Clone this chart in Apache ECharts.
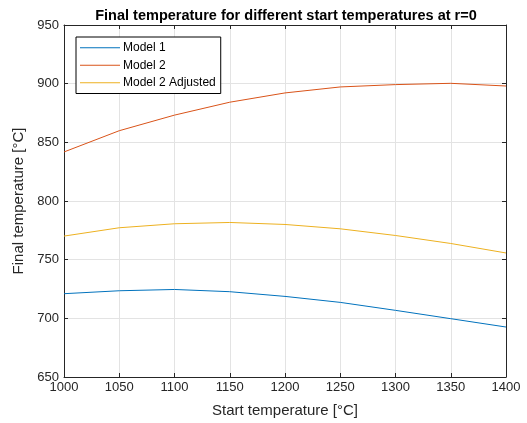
<!DOCTYPE html>
<html>
<head>
<meta charset="utf-8">
<script src="https://cdn.jsdelivr.net/npm/echarts@6/dist/echarts.min.js"></script>
<style>
  html, body { margin: 0; padding: 0; background: #fff; }
  #chart { width: 527px; height: 423px; }
</style>
</head>
<body>
<div id="chart"></div>
<script>
// start temperatures (x)
const startTemps = [1000, 1050, 1100, 1150, 1200, 1250, 1300, 1350, 1400]

// final temperature per model
const model1 = [721, 723.5, 724.6, 722.7, 718.7, 713.6, 706.8, 699.7, 692.6]
const model2 = [841.8, 859.9, 873.2, 884.2, 892.1, 897.2, 899.2, 900.3, 898]
const model2Adjusted = [770.1, 777.2, 780.6, 781.7, 780, 776.3, 770.6, 763.8, 755.7]

const seriesNames = ['Model 1', 'Model 2', 'Model 2 Adjusted']
const colors = ['#0072BD', '#D95319', '#EDB120']

const font = 'Liberation Sans, Arial, Helvetica, sans-serif'
const axisColor = '#262626'

const pairs = (ys) => startTemps.map((x, i) => [x, ys[i]])

const chart = echarts.init(document.getElementById('chart'))

// top / right axes only to close the box
const frameAxis = {
  axisLine: { show: true, lineStyle: { color: axisColor, width: 1 } },
  axisTick: { show: true, inside: true, length: 4, lineStyle: { color: axisColor } },
  axisLabel: { show: false },
  splitLine: { show: false }
}

chart.setOption({
  animation: false,
  color: colors,
  title: {
    text: 'Final temperature for different start temperatures at r=0',
    left: 281,
    textAlign: 'center',
    top: 3,
    textStyle: { fontFamily: font, fontSize: 14.5, fontWeight: 'bold', color: '#000' }
  },
  grid: { left: 64, right: 21, top: 25, bottom: 45 },
  legend: {
    orient: 'vertical',
    left: 76,
    top: 37,
    padding: [4, 5, 4, 4],
    itemGap: 4,
    itemWidth: 40,
    itemHeight: 1,
    icon: 'rect',
    borderColor: '#000',
    borderWidth: 1,
    backgroundColor: '#fff',
    data: seriesNames,
    textStyle: { fontFamily: font, fontSize: 12, color: '#000', padding: [0, 0, 0, -2], lineHeight: 13.5 }
  },
  xAxis: [
    {
      type: 'value',
      min: 1000,
      max: 1400,
      interval: 50,
      name: 'Start temperature [°C]',
      nameLocation: 'middle',
      nameGap: 26,
      nameTextStyle: { fontFamily: font, fontSize: 15, color: axisColor },
      axisLine: { show: true, onZero: false, lineStyle: { color: axisColor } },
      axisTick: { show: true, inside: true, length: 4, lineStyle: { color: axisColor } },
      axisLabel: { fontFamily: font, fontSize: 13, color: axisColor, margin: 4, formatter: (v) => String(v) },
      splitLine: { show: true, lineStyle: { color: '#e3e3e3', width: 1 } }
    },
    Object.assign({ type: 'value', min: 1000, max: 1400, interval: 50, position: 'top' }, frameAxis)
  ],
  yAxis: [
    {
      type: 'value',
      min: 650,
      max: 950,
      interval: 50,
      name: 'Final temperature [°C]',
      nameLocation: 'middle',
      nameGap: 34,
      nameTextStyle: { fontFamily: font, fontSize: 15, color: axisColor },
      axisLine: { show: true, onZero: false, lineStyle: { color: axisColor } },
      axisTick: { show: true, inside: true, length: 4, lineStyle: { color: axisColor } },
      axisLabel: { fontFamily: font, fontSize: 13, color: axisColor, margin: 5, formatter: (v) => String(v) },
      splitLine: { show: true, lineStyle: { color: '#e3e3e3', width: 1 } }
    },
    Object.assign({ type: 'value', min: 650, max: 950, interval: 50, position: 'right' }, frameAxis)
  ],
  series: [model1, model2, model2Adjusted].map((ys, i) => ({
    name: seriesNames[i],
    type: 'line',
    data: pairs(ys),
    showSymbol: false,
    symbol: 'none',
    lineStyle: { width: 1, color: colors[i] },
    itemStyle: { color: colors[i] }
  }))
})
</script>
</body>
</html>
